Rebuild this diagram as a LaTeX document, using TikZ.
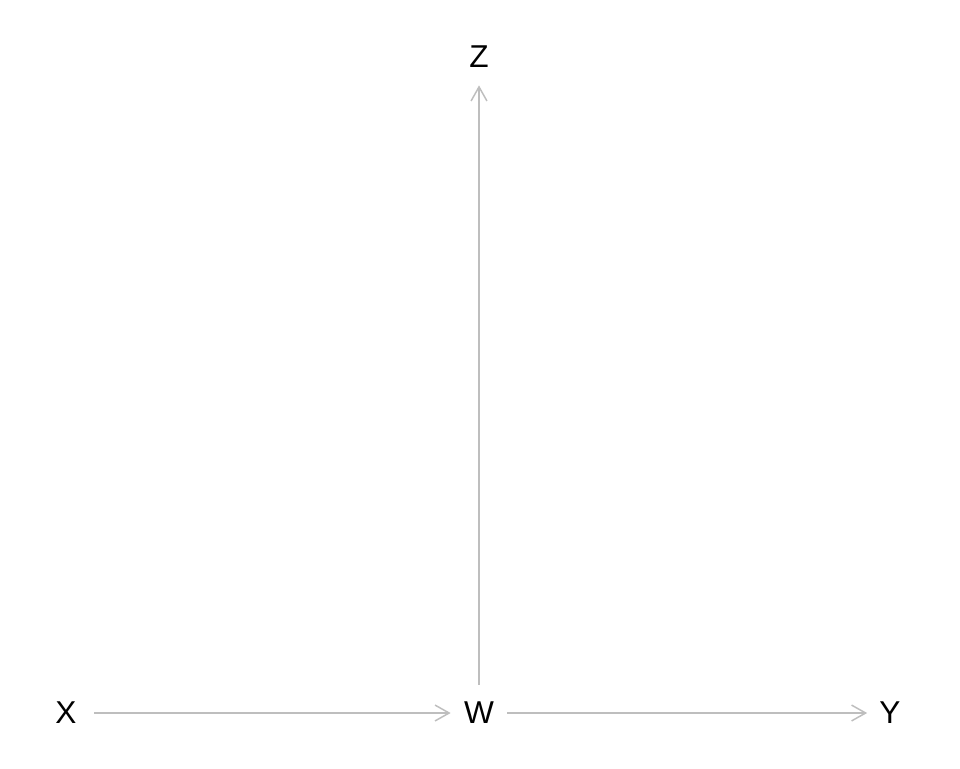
\documentclass[tikz,border=0pt]{standalone}
\usepackage{fontspec}
\setmainfont{Liberation Sans}
\usepackage{tikz}
\usetikzlibrary{arrows.meta}
\definecolor{edgegray}{HTML}{BEBEBE}

\begin{document}
\begin{tikzpicture}[x=0.02cm, y=-0.02cm, font=\fontsize{18}{21}\selectfont,
    var/.style={circle, inner sep=0pt, minimum size=1.12cm},
    edge/.style={draw=edgegray, line width=0.85pt, -{Straight Barb[length=8pt, width=9pt]}}]
        \useasboundingbox (0,0) rectangle (960,768);
        % variables
        \node[var] (X) at (66,713) {X};
        \node[var] (W) at (479,713) {W};
        \node[var, minimum size=0.9cm] (Y) at (890,713) {Y};
        \node[var] (Z) at (479,57) {Z};
        % edges
        \draw[edge] (X) -- (W);
        \draw[edge] (W) -- (Y);
        \draw[edge] (W) -- (Z);
      \end{tikzpicture}
\end{document}
